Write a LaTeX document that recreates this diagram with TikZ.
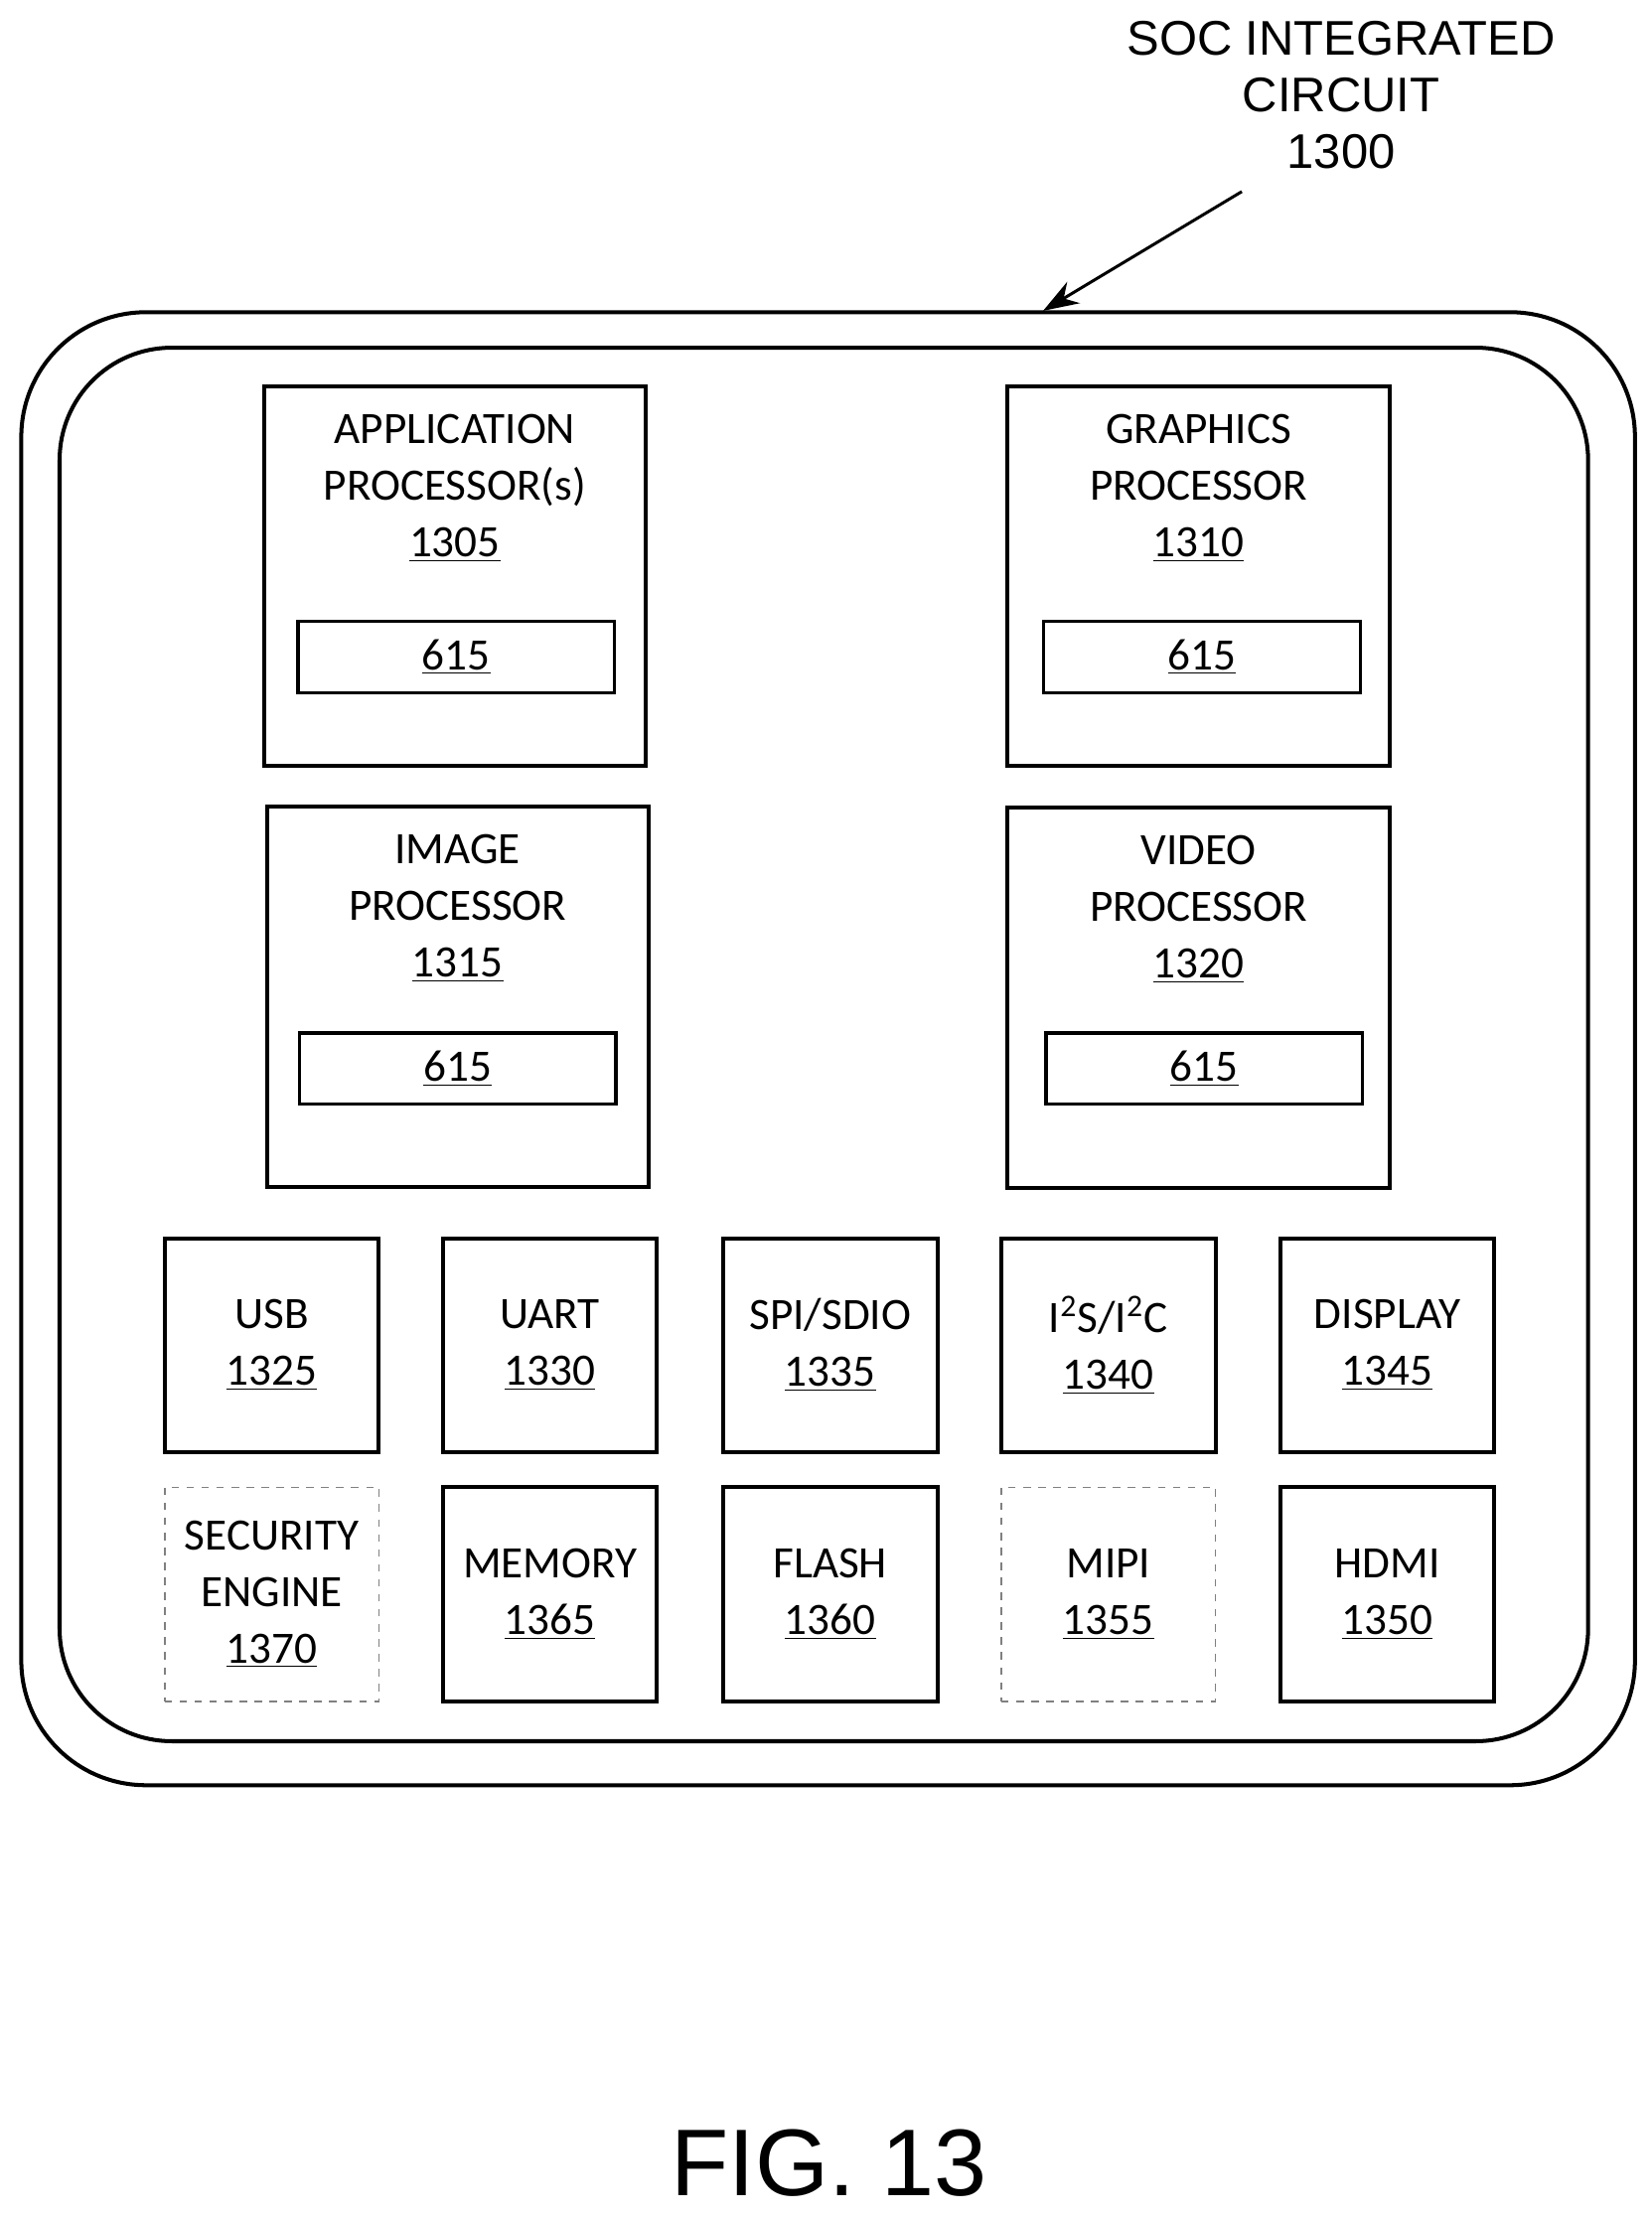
\documentclass[tikz,border=0pt]{standalone}
\usepackage{fontspec}
\setmainfont{Carlito}
\newfontfamily\arialfont{Liberation Sans}
\usetikzlibrary{arrows.meta, positioning}

\begin{document}
\begin{tikzpicture}[
  x=0.02cm, y=-0.02cm,
  bigbox/.style={rectangle, draw, line width=1.6pt, minimum width=5.38cm, minimum height=5.36cm},
  tagbox/.style={rectangle, draw, line width=1.3pt, minimum width=4.46cm, minimum height=1cm, font=\fontsize{18}{22}\selectfont},
  smallbox/.style={rectangle, draw, line width=1.6pt, minimum width=3.02cm, minimum height=3.02cm, align=center, font=\fontsize{18}{22.7}\selectfont},
  optbox/.style={smallbox, dashed, draw=gray, line width=0.6pt},
  title/.style={align=center, anchor=north, font=\fontsize{18}{22.7}\selectfont},
  arrow/.style={-{Stealth[length=5mm, width=3.5mm]}, line width=1.2pt}
]
\useasboundingbox (0,0) rectangle (1164,1563);

% SoC outline
\draw[line width=1.6pt, rounded corners=50] (15,220) rectangle (1152,1258);
\draw[line width=1.6pt, rounded corners=45] (42,245) rectangle (1119,1227);
\coordinate (soctop) at (735,219);
\node[align=center, font=\arialfont\fontsize{19.5}{22.7}\selectfont] (soc) at (945,67) {SOC INTEGRATED\\CIRCUIT\\1300};
\coordinate (arrowstart) at (875,135);
\draw[arrow] (arrowstart) -- (soctop);

% Processors
\node[bigbox] (AP) at (320.5,406) {};
\node[bigbox] (GP) at (844.5,406) {};
\node[bigbox] (IP) at (322.5,702.5) {};
\node[bigbox] (VP) at (844.5,703) {};
\node[title, below=0.3cm of AP.north] (APt) {APPLICATION\\PROCESSOR(s)\\\underline{1305}};
\node[title, below=0.3cm of GP.north] (GPt) {GRAPHICS\\PROCESSOR\\\underline{1310}};
\node[title, below=0.3cm of IP.north] (IPt) {IMAGE\\PROCESSOR\\\underline{1315}};
\node[title, below=0.3cm of VP.north] (VPt) {VIDEO\\PROCESSOR\\\underline{1320}};
\node[tagbox] (AP615) at (321.5,463) {\underline{615}};
\node[tagbox] (GP615) at (847,463) {\underline{615}};
\node[tagbox] (IP615) at (322.5,753) {\underline{615}};
\node[tagbox] (VP615) at (848.5,753) {\underline{615}};

% Interface blocks
\foreach \x/\name/\txt in {191.5/usb/{USB\\\underline{1325}}, 387.5/uart/{UART\\\underline{1330}},
  585/spi/{SPI/SDIO\\\underline{1335}}, 781/isc/{I\textsuperscript{2}S/I\textsuperscript{2}C\\\underline{1340}},
  977.5/disp/{DISPLAY\\\underline{1345}}}
  \node[smallbox] (\name) at (\x,948) {\txt};
\foreach \x/\name/\txt in {387.5/mem/{MEMORY\\\underline{1365}}, 585/flash/{FLASH\\\underline{1360}},
  977.5/hdmi/{HDMI\\\underline{1350}}}
  \node[smallbox] (\name) at (\x,1123.5) {\txt};
\node[optbox] (sec) at (191.5,1123.5) {SECURITY\\ENGINE\\\underline{1370}};
\node[optbox] (mipi) at (781,1123.5) {MIPI\\\underline{1355}};

\node[font=\arialfont\fontsize{38}{44}\selectfont] (fig) at (584,1524) {FIG. 13};
\end{tikzpicture}
\end{document}
